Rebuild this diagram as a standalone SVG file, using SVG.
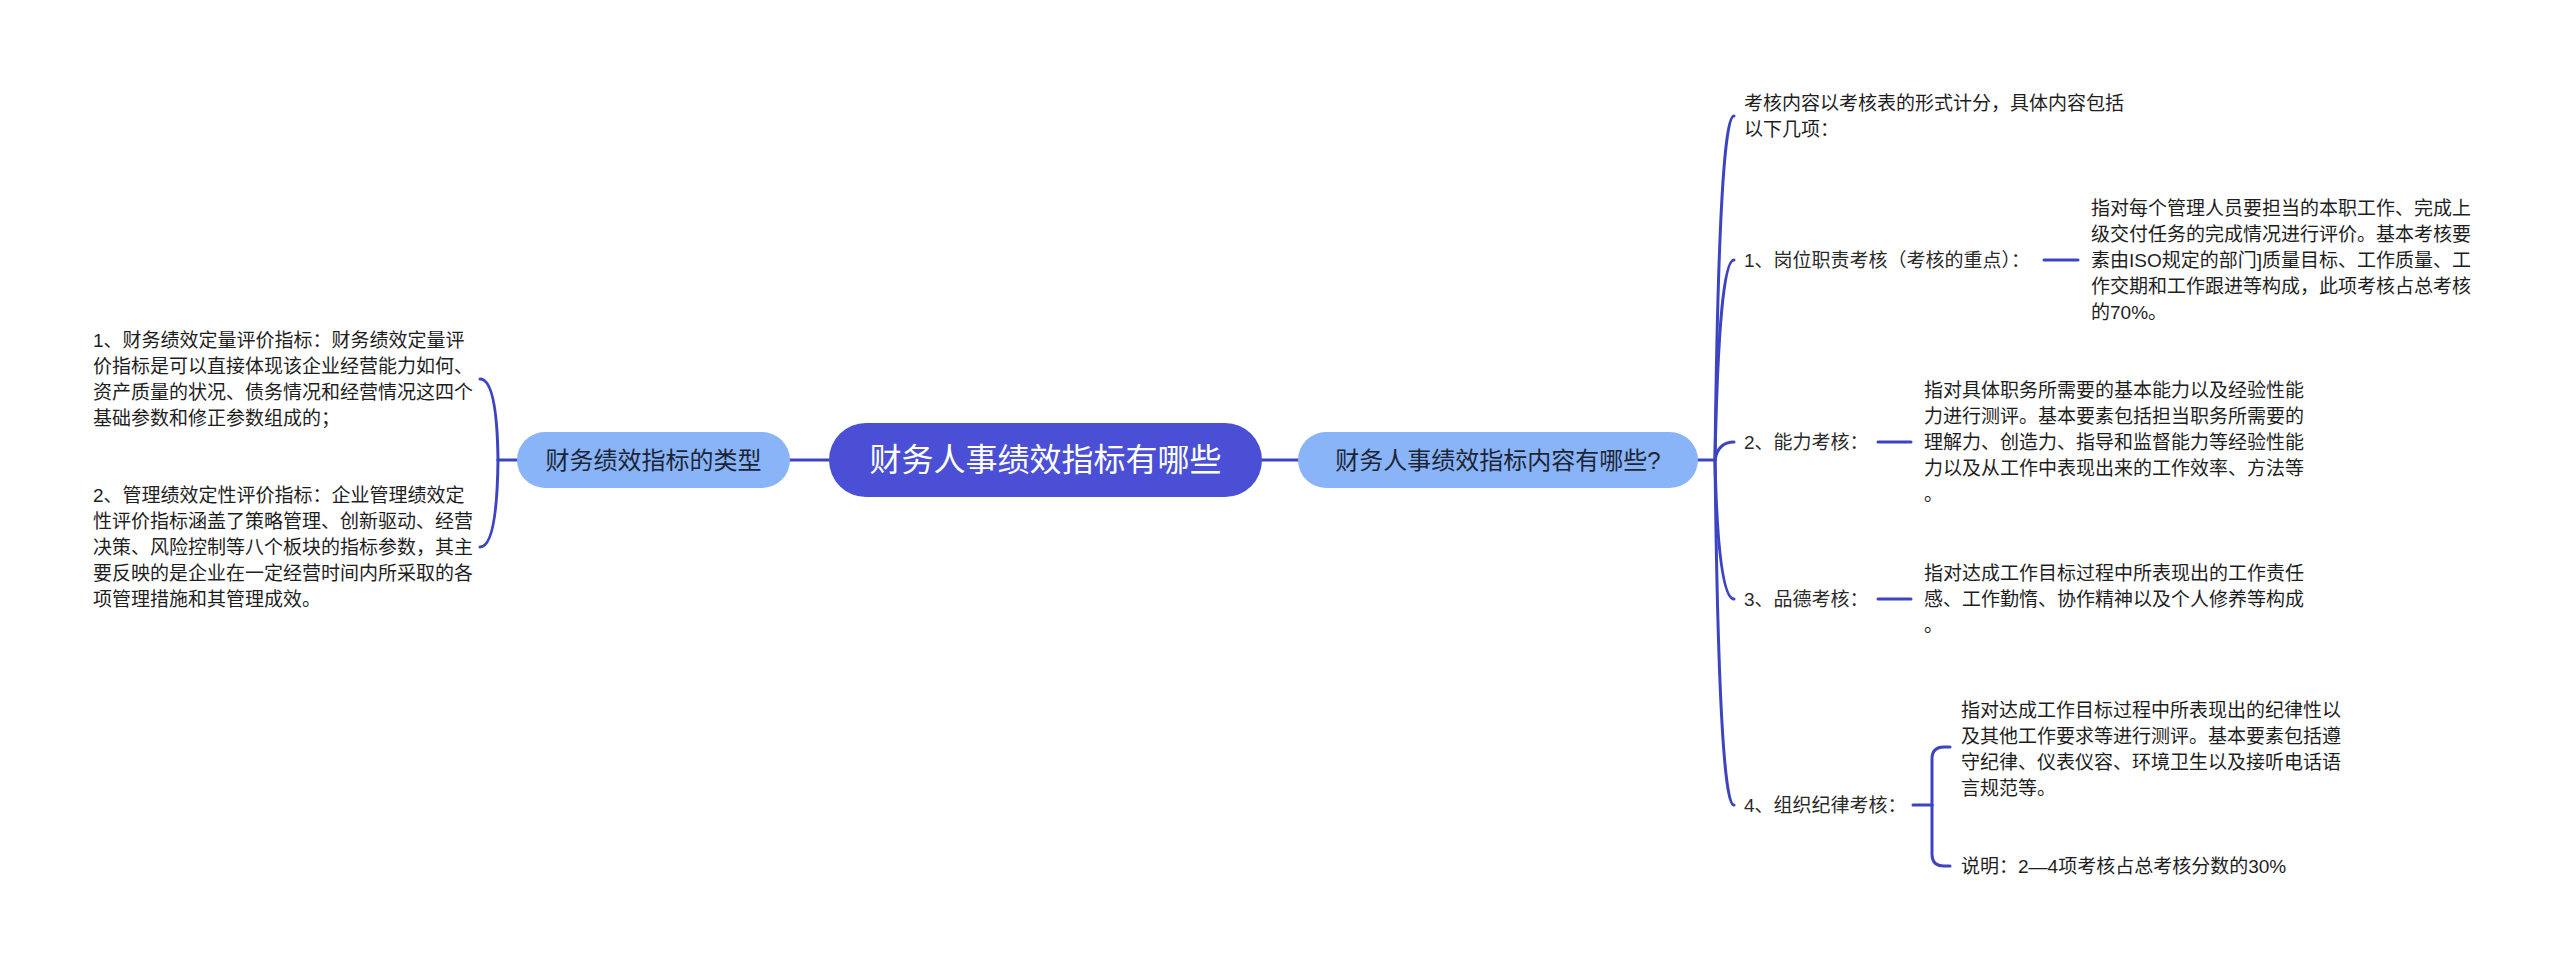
<svg xmlns="http://www.w3.org/2000/svg" width="2560" height="969" viewBox="0 0 2560 969">
<style>
text{font-family:"Liberation Sans","Noto Sans CJK SC",sans-serif;}
.t{font-size:19px;fill:#1e1e1e;}
.it{font-size:19px;fill:#2a2a2a;}
.sub{font-size:24px;fill:#1c2536;text-anchor:middle;}
.root{font-size:32px;fill:#ffffff;text-anchor:middle;}
.c{fill:none;stroke:#3d44c2;stroke-width:3;stroke-linecap:round;}
</style>
<rect width="2560" height="969" fill="#ffffff"/>
<g id="connectors">
<path class="c" d="M790 460 L829 460"/>
<path class="c" d="M1262 460 L1298 460"/>
<path class="c" d="M517 460 L498 460"/>
<path class="c" d="M498 460 Q497 379 480 379"/>
<path class="c" d="M498 460 Q497 547 480 547"/>
<path class="c" d="M1698 460 L1715 460"/>
<path class="c" d="M1715 460 Q1719 116 1734 116"/>
<path class="c" d="M1715 460 Q1719 260 1734 260"/>
<path class="c" d="M1715 460 Q1718 442 1734 442"/>
<path class="c" d="M1715 460 Q1718 599 1734 599"/>
<path class="c" d="M1715 460 Q1719 805 1734 805"/>
<path class="c" d="M2044 260 L2078 260"/>
<path class="c" d="M1878 442 L1911 442"/>
<path class="c" d="M1878 599 L1911 599"/>
<path class="c" d="M1913 805 L1932 805"/>
<path class="c" d="M1932 805 L1932 759 Q1932 747 1944 747 L1950 747"/>
<path class="c" d="M1932 805 L1932 854 Q1932 866 1944 866 L1950 866"/>
</g>
<g id="root">
<rect x="829" y="423" width="433" height="74" rx="37" fill="#4a4fd6"/>
<text class="root" x="1045.5" y="471">财务人事绩效指标有哪些</text>
</g>
<g id="left-node">
<rect x="517" y="432" width="273" height="56" rx="28" fill="#8ab4f8"/>
<text class="sub" x="653.5" y="469">财务绩效指标的类型</text>
</g>
<g id="right-node">
<rect x="1298" y="432" width="400" height="56" rx="28" fill="#8ab4f8"/>
<text class="sub" x="1498" y="469">财务人事绩效指标内容有哪些?</text>
</g>
<g id="left-text-1">
<text class="t" x="93" y="347">1、财务绩效定量评价指标：财务绩效定量评</text>
<text class="t" x="93" y="373">价指标是可以直接体现该企业经营能力如何、</text>
<text class="t" x="93" y="399">资产质量的状况、债务情况和经营情况这四个</text>
<text class="t" x="93" y="425">基础参数和修正参数组成的；</text>
</g>
<g id="left-text-2">
<text class="t" x="93" y="502">2、管理绩效定性评价指标：企业管理绩效定</text>
<text class="t" x="93" y="528">性评价指标涵盖了策略管理、创新驱动、经营</text>
<text class="t" x="93" y="554">决策、风险控制等八个板块的指标参数，其主</text>
<text class="t" x="93" y="580">要反映的是企业在一定经营时间内所采取的各</text>
<text class="t" x="93" y="606">项管理措施和其管理成效。</text>
</g>
<g id="item-0">
<text class="t" x="1744" y="110">考核内容以考核表的形式计分，具体内容包括</text>
<text class="t" x="1744" y="136">以下几项：</text>
</g>
<g id="item-1">
<text class="it" x="1744" y="267">1、岗位职责考核（考核的重点）：</text>
</g>
<g id="detail-1">
<text class="t" x="2091" y="215">指对每个管理人员要担当的本职工作、完成上</text>
<text class="t" x="2091" y="241">级交付任务的完成情况进行评价。基本考核要</text>
<text class="t" x="2091" y="267">素由ISO规定的部门]质量目标、工作质量、工</text>
<text class="t" x="2091" y="293">作交期和工作跟进等构成，此项考核占总考核</text>
<text class="t" x="2091" y="319">的70%。</text>
</g>
<g id="item-2">
<text class="it" x="1744" y="449">2、能力考核：</text>
</g>
<g id="detail-2">
<text class="t" x="1924" y="397">指对具体职务所需要的基本能力以及经验性能</text>
<text class="t" x="1924" y="423">力进行测评。基本要素包括担当职务所需要的</text>
<text class="t" x="1924" y="449">理解力、创造力、指导和监督能力等经验性能</text>
<text class="t" x="1924" y="475">力以及从工作中表现出来的工作效率、方法等</text>
<text class="t" x="1924" y="501">。</text>
</g>
<g id="item-3">
<text class="it" x="1744" y="606">3、品德考核：</text>
</g>
<g id="detail-3">
<text class="t" x="1924" y="580">指对达成工作目标过程中所表现出的工作责任</text>
<text class="t" x="1924" y="606">感、工作勤惰、协作精神以及个人修养等构成</text>
<text class="t" x="1924" y="632">。</text>
</g>
<g id="item-4">
<text class="it" x="1744" y="812">4、组织纪律考核：</text>
</g>
<g id="detail-4a">
<text class="t" x="1961" y="717">指对达成工作目标过程中所表现出的纪律性以</text>
<text class="t" x="1961" y="743">及其他工作要求等进行测评。基本要素包括遵</text>
<text class="t" x="1961" y="769">守纪律、仪表仪容、环境卫生以及接听电话语</text>
<text class="t" x="1961" y="795">言规范等。</text>
</g>
<g id="detail-4b">
<text class="t" x="1961" y="873">说明：2—4项考核占总考核分数的30%</text>
</g>
</svg>
